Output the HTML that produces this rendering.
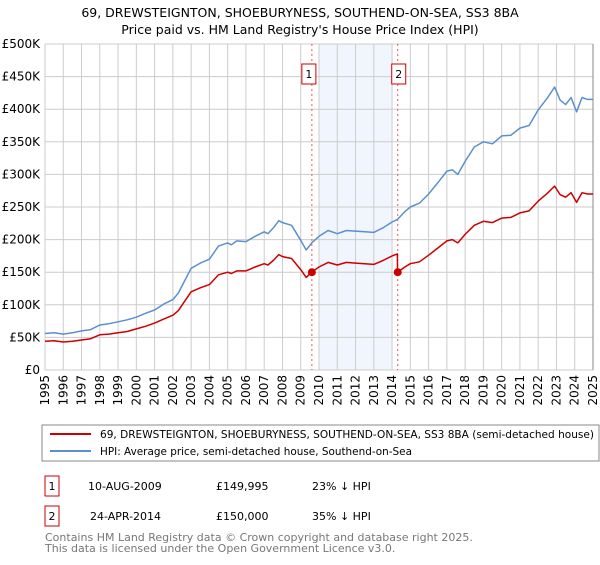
<!DOCTYPE html>
<html><head><meta charset="utf-8"><style>
body{margin:0;background:#fff;font-family:"Liberation Sans","DejaVu Sans",sans-serif;}
svg text{font-family:"DejaVu Sans","Liberation Sans",sans-serif;}
</style></head><body>
<svg id="chart" width="600" height="560" viewBox="0 0 600 560" xmlns="http://www.w3.org/2000/svg">
<text x="300" y="17" font-size="12.5" text-anchor="middle" fill="#000">69, DREWSTEIGNTON, SHOEBURYNESS, SOUTHEND-ON-SEA, SS3 8BA</text>
<text x="300" y="34" font-size="12.5" text-anchor="middle" fill="#000">Price paid vs. HM Land Registry's House Price Index (HPI)</text>
<g id="grid"></g>
<g id="marks"></g>
<g id="axes"></g>
<rect x="42" y="425" width="557" height="36" fill="#fff" stroke="#888"/>
<line x1="50" y1="434" x2="91" y2="434" stroke="#cc0000" stroke-width="2"/>
<text x="100" y="438" font-size="10.5" textLength="494" lengthAdjust="spacingAndGlyphs">69, DREWSTEIGNTON, SHOEBURYNESS, SOUTHEND-ON-SEA, SS3 8BA (semi-detached house)</text>
<line x1="50" y1="451" x2="91" y2="451" stroke="#5b8fd0" stroke-width="2"/>
<text x="100" y="455" font-size="10.5" textLength="312" lengthAdjust="spacingAndGlyphs">HPI: Average price, semi-detached house, Southend-on-Sea</text>
<rect x="45" y="476" width="14" height="20" fill="#fff" stroke="#cc0000"/>
<text x="52" y="490" font-size="11" text-anchor="middle">1</text>
<text x="88" y="490" font-size="11">10-AUG-2009</text>
<text x="216" y="490" font-size="11">£149,995</text>
<text x="312" y="490" font-size="11">23% ↓ HPI</text>
<rect x="45" y="506" width="14" height="20" fill="#fff" stroke="#cc0000"/>
<text x="52" y="520" font-size="11" text-anchor="middle">2</text>
<text x="90" y="520" font-size="11">24-APR-2014</text>
<text x="216" y="520" font-size="11">£150,000</text>
<text x="312" y="520" font-size="11">35% ↓ HPI</text>
<text x="45" y="541" font-size="11" fill="#777">Contains HM Land Registry data © Crown copyright and database right 2025.</text>
<text x="45" y="552" font-size="11" fill="#777">This data is licensed under the Open Government Licence v3.0.</text>
</svg>
<script>
const hpiYears=[1995,1995.5,1996,1996.5,1997,1997.5,1998,1998.5,1999,1999.5,2000,2000.5,2001,2001.5,2002,2002.3,2003,2003.5,2004,2004.5,2005,2005.2,2005.5,2006,2006.5,2007,2007.2,2007.5,2007.8,2008,2008.5,2009,2009.3,2009.6,2010,2010.5,2011,2011.5,2012,2012.5,2013,2013.5,2014,2014.3,2014.7,2015,2015.5,2016,2016.5,2017,2017.3,2017.6,2018,2018.5,2019,2019.5,2020,2020.5,2021,2021.5,2022,2022.5,2022.9,2023.2,2023.5,2023.8,2024.1,2024.4,2024.7,2025];
const hpiValues=[56,57,55,57,60,62,69,71,74,77,81,87,92,101,108,118,156,164,170,190,195,192,198,197,205,212,209,218,229,226,222,199,184,195,205,214,209,214,213,212,211,218,227,231,243,250,256,270,287,305,307,300,320,342,350,347,359,360,371,375,399,417,434,414,407,418,396,418,415,415];
const priceYears=[1995,1995.5,1996,1996.5,1997,1997.5,1998,1998.5,1999,1999.5,2000,2000.5,2001,2001.5,2002,2002.3,2003,2003.5,2004,2004.5,2005,2005.2,2005.5,2006,2006.5,2007,2007.2,2007.5,2007.8,2008,2008.5,2009,2009.3,2009.6,2010,2010.5,2011,2011.5,2012,2012.5,2013,2013.5,2014,2014.29,2014.3,2014.7,2015,2015.5,2016,2016.5,2017,2017.3,2017.6,2018,2018.5,2019,2019.5,2020,2020.5,2021,2021.5,2022,2022.5,2022.9,2023.2,2023.5,2023.8,2024.1,2024.4,2024.7,2025];
const priceValues=[44,45,43,44,46,48,54,55,57,59,63,67,72,78,84,91,120,126,131,146,150,148,152,152,158,163,161,168,177,174,171,154,142,150,158,165,161,165,164,163,162,168,175,178,150,158,163,166,176,187,198,200,195,208,222,228,226,233,234,241,244,259,271,282,269,265,272,257,272,270,270];
const sales=[{t:2009.61,v:149.995},{t:2014.31,v:150}];
const yTicks=[0,50,100,150,200,250,300,350,400,450,500];
const yTickLabels=["£0","£50K","£100K","£150K","£200K","£250K","£300K","£350K","£400K","£450K","£500K"];
const xTicks=[1995,1996,1997,1998,1999,2000,2001,2002,2003,2004,2005,2006,2007,2008,2009,2010,2011,2012,2013,2014,2015,2016,2017,2018,2019,2020,2021,2022,2023,2024,2025];

const X0=45,X1=593,Y0=370,Y1=44;
const xs=t=>X0+(t-1995)/30*(X1-X0);
const ys=v=>Y0-v/500*(Y0-Y1);
const NS="http://www.w3.org/2000/svg";
function mk(tag,attrs,parent){const e=document.createElementNS(NS,tag);for(const k in attrs)e.setAttribute(k,attrs[k]);parent.appendChild(e);return e;}
const grid=document.getElementById('grid'),marks=document.getElementById('marks'),axes=document.getElementById('axes');
const sh=mk('rect',{x:xs(2010),y:Y1,width:xs(2014)-xs(2010),height:Y0-Y1,fill:'#eef3fc',opacity:0.8},grid);


yTicks.forEach((v,i)=>{
 const l=mk('line',{x1:X0,x2:X1,y1:ys(v),y2:ys(v),stroke:'#ccc','stroke-width':1},grid);
 
 
 const t=mk('text',{x:40,y:ys(v)+4,'font-size':12,'text-anchor':'end',fill:'#000'},axes);
 t.textContent=yTickLabels[i];
 
 
});
xTicks.forEach(yr=>{
 const l=mk('line',{x1:xs(yr),x2:xs(yr),y1:Y1,y2:Y0,stroke:'#ccc','stroke-width':1},grid);
 
 
 const t=mk('text',{x:0,y:0,'font-size':12,'text-anchor':'end',transform:`translate(${xs(yr)+4},375) rotate(-90)`},axes);
 t.textContent=yr;
 
 
});
const rb=mk('line',{x1:X1,x2:X1,y1:Y1,y2:Y0,stroke:'#888','stroke-width':1},grid);


sales.forEach((s,i)=>{
 const l=mk('line',{x1:xs(s.t),x2:xs(s.t),y1:Y1,y2:Y0,stroke:'#e55','stroke-width':1,'stroke-dasharray':'2,3'},marks);
 
 
 const bx=xs(s.t)-(i==0?10:6);
 const r=mk('rect',{x:bx,y:64,width:14,height:20,fill:'#fff',stroke:'#cc0000'},marks);
 
 
 const tx=mk('text',{x:bx+7,y:78,'font-size':11,'text-anchor':'middle'},marks);
 tx.textContent=String(i+1);
 
 
});
function path(xv,yv,color,name){
 const d=xv.map((t,i)=>(i?'L':'M')+xs(t).toFixed(1)+','+ys(yv[i]).toFixed(1)).join('');
 const p=mk('path',{d:d,fill:'none',stroke:color,'stroke-width':1.5,'stroke-linejoin':'round'},marks);
 
 
}
path(hpiYears,hpiValues,'#5b8fd0','hpi-line');
path(priceYears,priceValues,'#cc0000','price-line');
sales.forEach(s=>{
 const c=mk('circle',{cx:xs(s.t),cy:ys(s.v),r:4,fill:'#cc0000'},marks);
 
 
});
</script>
</body></html>
